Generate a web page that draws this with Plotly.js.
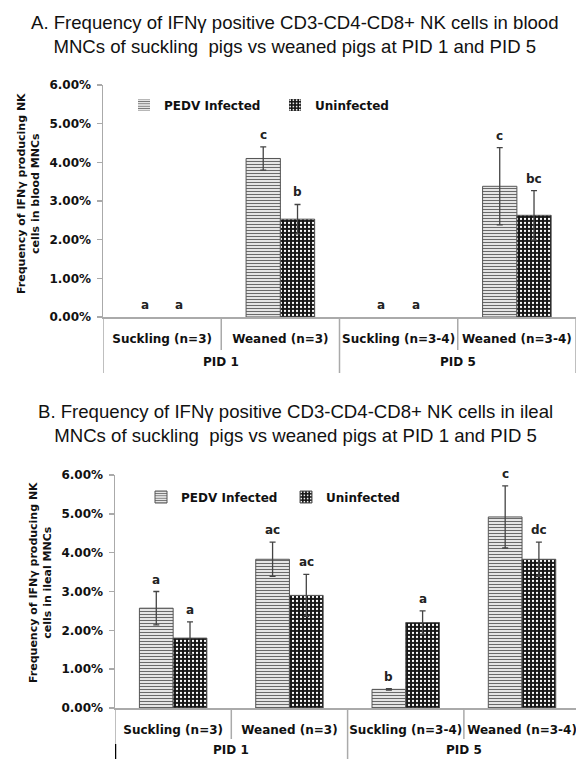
<!DOCTYPE html>
<html>
<head>
<meta charset="utf-8">
<script src="https://cdn.plot.ly/plotly-3.0.1.min.js"></script>
<style>html,body{margin:0;padding:0;background:#fff;}#chart{width:576px;height:759px;}</style>
</head>
<body>
<div id="chart"></div>
<script>
// ---------- data ----------
const categories = ['Suckling (n=3)', 'Weaned (n=3)', 'Suckling (n=3-4)', 'Weaned (n=3-4)'];
const groupLabels = ['PID 1', 'PID 5'];
const seriesNames = ['PEDV Infected', 'Uninfected'];

// Panel A: blood MNCs (%)
const infectedA = [0, 4.10, 0, 3.38];
const infectedErrA = [0, 0.30, 0, 1.00];
const uninfectedA = [0, 2.53, 0, 2.63];
const uninfectedErrA = [0, 0.38, 0, 0.64];
const infectedLabelsA = ['a', 'c', 'a', 'c'];
const uninfectedLabelsA = ['a', 'b', 'a', 'bc'];

// Panel B: ileal MNCs (%)
const infectedB = [2.57, 3.83, 0.48, 4.92];
const infectedErrB = [0.43, 0.44, 0.02, 0.80];
const uninfectedB = [1.80, 2.90, 2.20, 3.83];
const uninfectedErrB = [0.42, 0.54, 0.30, 0.44];
const infectedLabelsB = ['a', 'ac', 'b', 'c'];
const uninfectedLabelsB = ['a', 'ac', 'a', 'dc'];

const titleA = 'A. Frequency of IFNγ positive CD3-CD4-CD8+ NK cells in blood<br>MNCs of suckling  pigs vs weaned pigs at PID 1 and PID 5';
const titleB = 'B. Frequency of IFNγ positive CD3-CD4-CD8+ NK cells in ileal<br>MNCs of suckling  pigs vs weaned pigs at PID 1 and PID 5';
const yTitleA = 'Frequency of IFNγ producing NK<br>cells in blood MNCs';
const yTitleB = 'Frequency of IFNγ producing NK<br>cells in ileal MNCs';

// ---------- layout helpers ----------
const W = 576, H = 759;
const px = x => x / W;
const py = y => 1 - y / H;
const xIdx = categories.map((c, i) => i);
const FONT = 'Liberation Sans, Arial, sans-serif';
const BOLD = 'DejaVu Sans, Verdana, sans-serif';
const BAR_GAP = 0.42;
const half = (1 - BAR_GAP) / 4;

const infPattern = {shape: '-', fgcolor: '#6a6a6a', bgcolor: '#ffffff', size: 3, solidity: 0.45};
const uninfPattern = {shape: '.', fgcolor: '#ffffff', bgcolor: '#151515', size: 4, solidity: 0.25};

function barTrace(name, y, err, xa, ya, pattern, legend) {
  return {
    type: 'bar', name: name, x: xIdx, y: y, xaxis: xa, yaxis: ya,
    legend: legend, showlegend: true,
    marker: {color: '#ffffff', pattern: pattern,
      line: {color: '#555', width: y.map(v => (v > 0 ? 1 : 0))}},
    error_y: {type: 'data', array: err.map((e, i) => (y[i] > 0 ? e : undefined)), visible: true,
      color: '#444', thickness: 1.3, width: 3},
    hoverinfo: 'skip'
  };
}

const traces = [
  barTrace(seriesNames[0], infectedA, infectedErrA, 'x', 'y', infPattern, 'legend'),
  barTrace(seriesNames[1], uninfectedA, uninfectedErrA, 'x', 'y', uninfPattern, 'legend'),
  barTrace(seriesNames[0], infectedB, infectedErrB, 'x2', 'y2', infPattern, 'legend2'),
  barTrace(seriesNames[1], uninfectedB, uninfectedErrB, 'x2', 'y2', uninfPattern, 'legend2')
];

const annotations = [];
function letterAnns(vals, errs, labels, offset, xr, yr) {
  vals.forEach((v, i) => {
    annotations.push({
      xref: xr, yref: yr, x: i + offset, y: v + errs[i], text: labels[i],
      showarrow: false, yanchor: 'middle', yshift: 12,
      font: {family: BOLD, size: 12, color: '#222', weight: 'bold'}
    });
  });
}
letterAnns(infectedA, infectedErrA, infectedLabelsA, -half, 'x', 'y');
letterAnns(uninfectedA, uninfectedErrA, uninfectedLabelsA, half, 'x', 'y');
letterAnns(infectedB, infectedErrB, infectedLabelsB, -half, 'x2', 'y2');
letterAnns(uninfectedB, uninfectedErrB, uninfectedLabelsB, half, 'x2', 'y2');

// group labels
[['x', 362], ['x2', 750]].forEach(([xr, yy]) => {
  groupLabels.forEach((g, k) => {
    annotations.push({xref: xr, yref: 'paper', x: 0.5 + 2 * k, y: py(yy), text: g, showarrow: false,
      yanchor: 'middle', font: {family: BOLD, size: 12, color: '#111', weight: 'bold'}});
  });
});

// titles
annotations.push({xref: 'paper', yref: 'paper', x: px(295), y: py(34), text: titleA, showarrow: false,
  xanchor: 'center', yanchor: 'middle', font: {family: FONT, size: 18.6, color: '#111'}});
annotations.push({xref: 'paper', yref: 'paper', x: px(295), y: py(424), text: titleB, showarrow: false,
  xanchor: 'center', yanchor: 'middle', font: {family: FONT, size: 18.6, color: '#111'}});
// y titles
annotations.push({xref: 'paper', yref: 'paper', x: px(28), y: py(194), text: yTitleA, showarrow: false,
  textangle: -90, xanchor: 'center', yanchor: 'middle', font: {family: BOLD, size: 11, color: '#111', weight: 'bold'}});
annotations.push({xref: 'paper', yref: 'paper', x: px(40), y: py(583), text: yTitleB, showarrow: false,
  textangle: -90, xanchor: 'center', yanchor: 'middle', font: {family: BOLD, size: 11, color: '#111', weight: 'bold'}});

// dividers
const shapes = [];
function dividers(xr, axisY, shortY, longY) {
  [0.5, 2.5].forEach(x => shapes.push({type: 'line', xref: xr, yref: 'paper', x0: x, x1: x, y0: py(axisY), y1: py(shortY), line: {color: '#aaa', width: 1.5}}));
  [-0.5, 1.5, 3.5].forEach(x => shapes.push({type: 'line', xref: xr, yref: 'paper', x0: x, x1: x, y0: py(axisY), y1: py(longY), line: {color: '#aaa', width: 1.5}}));
}
dividers('x', 317, 350, 373);
dividers('x2', 708, 739, 759);
shapes.push({type: 'line', xref: 'x2', yref: 'paper', x0: -0.5, x1: -0.5, y0: py(744), y1: py(759), line: {color: '#000', width: 2.5}});

const axisFont = {family: BOLD, size: 12, color: '#111', weight: 'bold'};
function xAxis(domain, range, anchor) {
  return {domain: domain, range: range, anchor: anchor, tickvals: xIdx, ticktext: categories,
    ticks: '', showline: true, linecolor: '#aaa', linewidth: 1.5, showgrid: false, zeroline: false,
    tickfont: axisFont, ticklabelstandoff: 10, ticklabeloverflow: 'allow', fixedrange: true};
}
function yAxis(domain, anchor) {
  return {domain: domain, range: [0, 6], anchor: anchor, dtick: 1, tickformat: '.2f', ticksuffix: '%',
    ticks: 'outside', ticklen: 5, tickcolor: '#aaa', tickwidth: 1.5, showline: true, linecolor: '#aaa', linewidth: 1.5,
    showgrid: false, zeroline: false, tickfont: axisFont, ticklabelstandoff: 3, fixedrange: true};
}

const legendBase = {orientation: 'h', xanchor: 'left', yanchor: 'middle', bgcolor: 'rgba(0,0,0,0)',
  font: {family: BOLD, size: 12, color: '#111', weight: 'bold'}, entrywidthmode: 'pixels',
  itemwidth: 30, tracegroupgap: 0};

const layout = {
  width: W, height: H, margin: {l: 0, r: 0, t: 0, b: 0},
  paper_bgcolor: '#fff', plot_bgcolor: '#fff',
  barmode: 'group', bargap: BAR_GAP, bargroupgap: 0,
  showlegend: true,
  xaxis: xAxis([px(103), 1], [-0.5, 3.5], 'y'),
  yaxis: yAxis([py(317), py(85)], 'x'),
  xaxis2: xAxis([px(115), 1], [-0.5, 3.464], 'y2'),
  yaxis2: yAxis([py(708), py(475)], 'x2'),
  legend: Object.assign({x: px(124), y: py(105), entrywidth: 106}, legendBase),
  legend2: Object.assign({x: px(141), y: py(497), entrywidth: 100}, legendBase),
  annotations: annotations,
  shapes: shapes
};

Plotly.newPlot('chart', traces, layout, {staticPlot: true, displayModeBar: false});
</script>
</body>
</html>
